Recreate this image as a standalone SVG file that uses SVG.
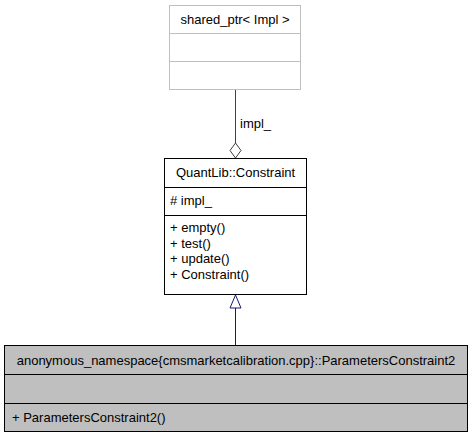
<svg xmlns="http://www.w3.org/2000/svg" width="472" height="437" viewBox="0 0 472 437">
<style>
text{font-family:"Liberation Sans",Arial,sans-serif;font-size:13px;fill:#000}
.c{text-anchor:middle}
.box{fill:#fff;stroke:#000;stroke-width:1}
.ext{fill:#fff;stroke:#bfbfbf;stroke-width:1}
.cur{fill:#bfbfbf;stroke:#000;stroke-width:1}
</style>
<rect width="472" height="437" fill="#fff"/>
<g id="shared_ptr">
<rect class="ext" x="169.5" y="5.5" width="131" height="84"/>
<line x1="169.5" y1="33.5" x2="300.5" y2="33.5" stroke="#bfbfbf"/>
<line x1="169.5" y1="61.5" x2="300.5" y2="61.5" stroke="#bfbfbf"/>
<text class="c" x="235" y="23.5">shared_ptr&lt; Impl &gt;</text>
</g>
<g id="Constraint">
<rect class="box" x="164.5" y="158.5" width="142" height="136"/>
<line x1="164.5" y1="187.5" x2="306.5" y2="187.5" stroke="#000"/>
<line x1="164.5" y1="215.5" x2="306.5" y2="215.5" stroke="#000"/>
<text class="c" x="235.5" y="177">QuantLib::Constraint</text>
<text x="170" y="205"># impl_</text>
<text x="170" y="232">+ empty()</text>
<text x="170" y="247.5">+ test()</text>
<text x="170" y="263">+ update()</text>
<text x="170" y="278.5">+ Constraint()</text>
</g>
<g id="ParametersConstraint2">
<rect class="cur" x="4.5" y="345.5" width="463" height="86"/>
<line x1="4.5" y1="374.5" x2="467.5" y2="374.5" stroke="#000"/>
<line x1="4.5" y1="403.5" x2="467.5" y2="403.5" stroke="#000"/>
<text class="c" x="236" y="365">anonymous_namespace{cmsmarketcalibration.cpp}::ParametersConstraint2</text>
<text x="12" y="422">+ ParametersConstraint2()</text>
</g>
<g id="connectors">
<line x1="235.5" y1="90" x2="235.5" y2="143" stroke="#404040" stroke-width="1"/>
<polygon points="235.5,143 241,150.5 235.5,158 230,150.5" fill="#fff" stroke="#404040"/>
<text x="240" y="128">impl_</text>
<line x1="235.5" y1="308" x2="235.5" y2="345" stroke="#191970" stroke-width="1"/>
<polygon points="235.5,295 241,308 230,308" fill="#fff" stroke="#191970"/>
</g>
</svg>
